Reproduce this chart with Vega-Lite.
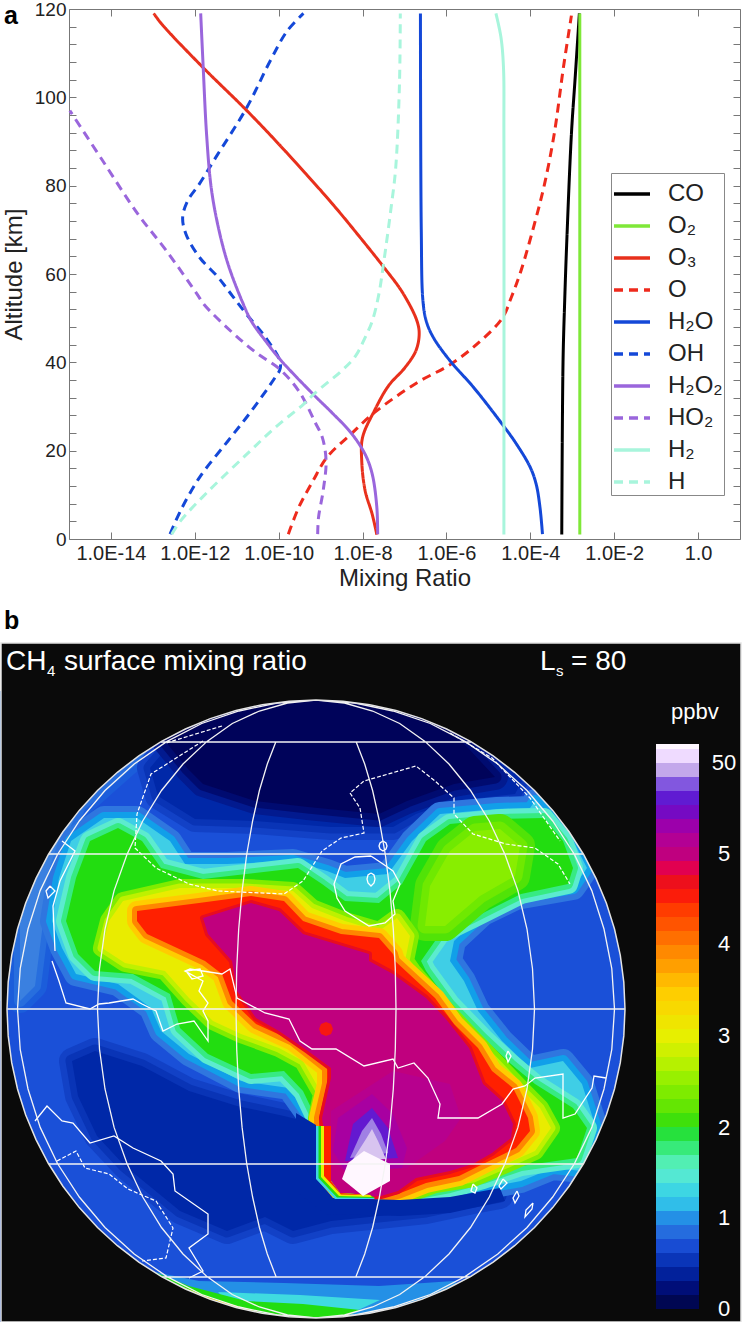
{"$schema":"https://vega.github.io/schema/vega-lite/v6.json","padding":{"left":-2,"top":0,"right":0,"bottom":0},"background":"white","spacing":10,"bounds":"full","align":"none","config":{"font":"Liberation Sans","view":{"stroke":null}},"datasets":{"profiles":[
{"s":"CO","alt":1,"m":-3.25},{"s":"CO","alt":40,"m":-3.22},{"s":"CO","alt":54,"m":-3.18},{"s":"CO","alt":67.5,"m":-3.13},{"s":"CO","alt":91.7,"m":-3.02},{"s":"CO","alt":104.5,"m":-2.93},{"s":"CO","alt":119,"m":-2.83},
{"s":"O₂","alt":1,"m":-2.82},{"s":"O₂","alt":119,"m":-2.82},
{"s":"O₃","alt":119,"m":-12.98},{"s":"O₃","alt":116.6,"m":-12.79},{"s":"O₃","alt":107,"m":-11.83},{"s":"O₃","alt":97,"m":-10.76},{"s":"O₃","alt":88,"m":-9.86},{"s":"O₃","alt":76,"m":-8.73},{"s":"O₃","alt":68.3,"m":-8.06},{"s":"O₃","alt":61.5,"m":-7.49},{"s":"O₃","alt":55.7,"m":-7.04},{"s":"O₃","alt":49.3,"m":-6.7},{"s":"O₃","alt":46.3,"m":-6.65},{"s":"O₃","alt":42.6,"m":-6.73},{"s":"O₃","alt":38.8,"m":-6.99},{"s":"O₃","alt":34.7,"m":-7.38},{"s":"O₃","alt":29,"m":-7.72},{"s":"O₃","alt":23,"m":-8.0},{"s":"O₃","alt":17.7,"m":-8.02},{"s":"O₃","alt":11,"m":-7.94},{"s":"O₃","alt":5.6,"m":-7.77},{"s":"O₃","alt":1,"m":-7.66},
{"s":"O","alt":118.5,"m":-3.02},{"s":"O","alt":106.8,"m":-3.21},{"s":"O","alt":91.7,"m":-3.43},{"s":"O","alt":80.4,"m":-3.66},{"s":"O","alt":72.1,"m":-3.88},{"s":"O","alt":60.8,"m":-4.22},{"s":"O","alt":54.8,"m":-4.45},{"s":"O","alt":50,"m":-4.67},{"s":"O","alt":44.4,"m":-5.24},{"s":"O","alt":39.5,"m":-5.91},{"s":"O","alt":35.4,"m":-6.7},{"s":"O","alt":28.6,"m":-7.72},{"s":"O","alt":23.7,"m":-8.28},{"s":"O","alt":18.5,"m":-8.85},{"s":"O","alt":13.2,"m":-9.18},{"s":"O","alt":7.2,"m":-9.52},{"s":"O","alt":1.1,"m":-9.77},
{"s":"H₂O","alt":119,"m":-6.62},{"s":"H₂O","alt":70,"m":-6.6},{"s":"H₂O","alt":53.9,"m":-6.56},{"s":"H₂O","alt":49.3,"m":-6.48},{"s":"H₂O","alt":45.6,"m":-6.31},{"s":"H₂O","alt":40.3,"m":-5.91},{"s":"H₂O","alt":34.3,"m":-5.35},{"s":"H₂O","alt":26,"m":-4.67},{"s":"H₂O","alt":21.5,"m":-4.33},{"s":"H₂O","alt":16.2,"m":-4.0},{"s":"H₂O","alt":12.4,"m":-3.86},{"s":"H₂O","alt":7.2,"m":-3.77},{"s":"H₂O","alt":1.1,"m":-3.71},
{"s":"OH","alt":119,"m":-9.41},{"s":"OH","alt":115,"m":-9.8},{"s":"OH","alt":108.3,"m":-10.2},{"s":"OH","alt":97.7,"m":-10.76},{"s":"OH","alt":86.4,"m":-11.5},{"s":"OH","alt":80.4,"m":-11.89},{"s":"OH","alt":76.6,"m":-12.17},{"s":"OH","alt":72.8,"m":-12.29},{"s":"OH","alt":69,"m":-12.21},{"s":"OH","alt":63.8,"m":-11.89},{"s":"OH","alt":59.2,"m":-11.44},{"s":"OH","alt":55,"m":-11.1},{"s":"OH","alt":50.8,"m":-10.76},{"s":"OH","alt":45.6,"m":-10.31},{"s":"OH","alt":40.3,"m":-9.97},{"s":"OH","alt":38.4,"m":-9.97},{"s":"OH","alt":36.5,"m":-10.09},{"s":"OH","alt":29,"m":-10.65},{"s":"OH","alt":22.2,"m":-11.21},{"s":"OH","alt":13.9,"m":-11.89},{"s":"OH","alt":6.4,"m":-12.34},{"s":"OH","alt":1.1,"m":-12.59},
{"s":"H₂O₂","alt":119,"m":-11.86},{"s":"H₂O₂","alt":106.8,"m":-11.8},{"s":"H₂O₂","alt":91.7,"m":-11.72},{"s":"H₂O₂","alt":79.6,"m":-11.61},{"s":"H₂O₂","alt":70.6,"m":-11.44},{"s":"H₂O₂","alt":62.3,"m":-11.21},{"s":"H₂O₂","alt":54,"m":-10.88},{"s":"H₂O₂","alt":49.3,"m":-10.65},{"s":"H₂O₂","alt":44.8,"m":-10.31},{"s":"H₂O₂","alt":40.7,"m":-9.97},{"s":"H₂O₂","alt":32.8,"m":-9.18},{"s":"H₂O₂","alt":28.6,"m":-8.73},{"s":"H₂O₂","alt":24.1,"m":-8.28},{"s":"H₂O₂","alt":19.2,"m":-7.94},{"s":"H₂O₂","alt":14.7,"m":-7.77},{"s":"H₂O₂","alt":7.2,"m":-7.66},{"s":"H₂O₂","alt":1.1,"m":-7.64},
{"s":"HO₂","alt":97,"m":-14.98},{"s":"HO₂","alt":85.7,"m":-14.2},{"s":"HO₂","alt":73.6,"m":-13.36},{"s":"HO₂","alt":65.3,"m":-12.68},{"s":"HO₂","alt":55.5,"m":-11.95},{"s":"HO₂","alt":53.1,"m":-11.78},{"s":"HO₂","alt":46.7,"m":-11.1},{"s":"HO₂","alt":42.2,"m":-10.54},{"s":"HO₂","alt":38.4,"m":-9.97},{"s":"HO₂","alt":33.5,"m":-9.52},{"s":"HO₂","alt":26.4,"m":-9.13},{"s":"HO₂","alt":23,"m":-8.96},{"s":"HO₂","alt":17.7,"m":-8.87},{"s":"HO₂","alt":10.9,"m":-8.94},{"s":"HO₂","alt":4.9,"m":-9.05},{"s":"HO₂","alt":1.1,"m":-9.07},
{"s":"H₂","alt":119,"m":-4.82},{"s":"H₂","alt":113.6,"m":-4.7},{"s":"H₂","alt":106.8,"m":-4.64},{"s":"H₂","alt":91.7,"m":-4.63},{"s":"H₂","alt":1,"m":-4.63},
{"s":"H","alt":119,"m":-7.1},{"s":"H","alt":103,"m":-7.12},{"s":"H","alt":84,"m":-7.21},{"s":"H","alt":75,"m":-7.32},{"s":"H","alt":63,"m":-7.49},{"s":"H","alt":55.5,"m":-7.61},{"s":"H","alt":49.3,"m":-7.77},{"s":"H","alt":45.6,"m":-7.94},{"s":"H","alt":41.4,"m":-8.17},{"s":"H","alt":38,"m":-8.51},{"s":"H","alt":33.1,"m":-9.13},{"s":"H","alt":30.5,"m":-9.41},{"s":"H","alt":25.2,"m":-10.09},{"s":"H","alt":19.2,"m":-10.76},{"s":"H","alt":10.9,"m":-11.67},{"s":"H","alt":4.1,"m":-12.34},{"s":"H","alt":1.1,"m":-12.55}
],
"bands":[
{"type":"Feature","properties":{"id":0,"level":0.72,"f1":0.72,"f2":0.72},"geometry":{"type":"Polygon","coordinates":[[[0,690],[640,690],[640,1322],[0,1322],[0,690]]]}},
{"type":"Feature","properties":{"id":0,"level":0.95,"f1":0.95,"f2":0.95},"geometry":{"type":"Polygon","coordinates":[[[0,690],[24,690],[24,1000],[0,1000],[0,690]]]}},
{"type":"Feature","properties":{"id":1,"level":0.95,"f1":0.78,"f2":0.86},"geometry":{"type":"Polygon","coordinates":[[[20,1000],[35,985],[42,930],[55,860],[80,805],[125,765],[175,725],[170,690],[20,690],[20,1000]]]}},
{"type":"Feature","properties":{"id":1,"level":0.95,"f1":0.78,"f2":0.86},"geometry":{"type":"Polygon","coordinates":[[[510,735],[548,795],[605,860],[640,880],[640,790],[550,700],[510,735]]]}},
{"type":"Feature","properties":{"id":2,"level":0.45,"f1":0.62,"f2":0.53},"geometry":{"type":"Polygon","coordinates":[[[72,1060],[95,1050],[142,1065],[189,1090],[237,1105],[284,1115],[312,1122],[319,1177],[341,1197],[379,1200],[450,1200],[500,1195],[473,1200],[426,1210],[331,1220],[293,1230],[265,1216],[227,1230],[180,1210],[125,1165],[97,1135],[78,1095],[72,1060]]]}},
{"type":"Feature","properties":{"id":2,"level":0.45,"f1":0.62,"f2":0.53},"geometry":{"type":"Polygon","coordinates":[[[150,767],[158,795],[195,818],[255,820],[331,826],[393,826],[416,813],[454,800],[515,793],[522,780],[495,745],[450,705],[316,690],[185,725],[150,767]]]}},
{"type":"Feature","properties":{"id":3,"level":0.12,"f1":0.33,"f2":0.2},"geometry":{"type":"Polygon","coordinates":[[[165,740],[188,768],[203,783],[255,800],[308,806],[379,813],[407,800],[454,783],[495,776],[468,747],[450,730],[379,700],[312,692],[246,700],[189,722],[165,740]]]}},
{"type":"Feature","properties":{"id":4,"level":1.25,"f1":0.9,"f2":1.05},"geometry":{"type":"Polygon","coordinates":[[[62,947],[52,920],[59,877],[71,840],[104,817],[137,817],[170,840],[185,863],[227,863],[293,860],[327,870],[345,877],[388,873],[412,840],[440,813],[497,808],[530,807],[535,800],[568,830],[587,867],[573,887],[516,897],[483,913],[454,940],[450,960],[464,980],[478,1010],[502,1040],[530,1067],[563,1060],[582,1083],[596,1127],[582,1170],[553,1167],[521,1180],[450,1193],[393,1197],[331,1196],[316,1177],[316,1125],[289,1087],[241,1080],[189,1053],[161,1030],[151,1007],[118,983],[76,973],[62,947]]]}},
{"type":"Feature","properties":{"id":5,"level":2,"f1":1.5,"f2":1.75},"geometry":{"type":"Polygon","coordinates":[[[78,953],[66,920],[76,877],[90,840],[118,827],[142,840],[161,867],[203,878],[255,872],[298,867],[322,883],[345,900],[379,902],[402,883],[426,840],[450,823],[502,818],[544,817],[563,840],[573,867],[568,883],[521,893],[473,917],[440,933],[421,960],[426,970],[450,1003],[483,1037],[511,1063],[535,1083],[573,1107],[587,1127],[577,1157],[521,1165],[483,1178],[450,1187],[407,1195],[331,1196],[318,1180],[316,1117],[303,1090],[284,1070],[251,1073],[208,1053],[180,1027],[170,993],[133,973],[95,970],[78,953]]]}},
{"type":"Feature","properties":{"id":6,"level":2.45,"f1":2.15,"f2":2.3},"geometry":{"type":"Polygon","coordinates":[[[450,850],[475,830],[500,828],[520,845],[515,875],[480,895],[445,925],[425,925],[430,885],[450,850]]]}},
{"type":"Feature","properties":{"id":7,"level":3.05,"f1":2.4,"f2":2.75},"geometry":{"type":"Polygon","coordinates":[[[102,947],[109,920],[123,900],[180,887],[246,887],[293,890],[312,907],[345,920],[379,930],[397,917],[410,935],[405,960],[412,970],[440,1003],[468,1033],[497,1063],[520,1087],[540,1107],[551,1127],[535,1150],[506,1163],[473,1177],[435,1183],[402,1195],[331,1197],[322,1187],[317,1117],[322,1093],[303,1060],[279,1047],[241,1033],[213,1020],[189,997],[165,970],[125,962],[102,947]]]}},
{"type":"Feature","properties":{"id":8,"level":4.5,"f1":3.5,"f2":3.95},"geometry":{"type":"Polygon","coordinates":[[[137,920],[137,910],[199,902],[251,895],[284,900],[303,920],[341,933],[379,937],[393,953],[395,960],[435,997],[454,1023],[478,1047],[492,1070],[513,1087],[528,1117],[530,1130],[516,1147],[483,1163],[459,1175],[426,1182],[398,1193],[381,1197],[345,1197],[325,1183],[320,1168],[319,1117],[327,1083],[327,1067],[293,1040],[256,1023],[232,1000],[222,973],[205,960],[147,933],[137,920]]]}},
{"type":"Feature","properties":{"id":9,"level":5,"f1":4.75,"f2":4.85},"geometry":{"type":"Polygon","coordinates":[[[203,917],[251,902],[279,910],[303,933],[369,953],[369,960],[393,973],[426,997],[445,1017],[469,1047],[483,1083],[502,1100],[513,1123],[511,1137],[492,1152],[473,1163],[450,1170],[416,1177],[398,1190],[381,1195],[364,1196],[341,1195],[327,1183],[331,1167],[327,1150],[322,1117],[331,1077],[331,1067],[308,1050],[279,1030],[256,1017],[237,990],[232,960],[208,933],[203,917]]]}}
],
"details":[
{"type":"Feature","properties":{"level":0.45},"geometry":{"type":"Polygon","coordinates":[[[316,1124],[316,1177],[333,1197],[400,1199],[450,1196],[500,1187],[505,1200],[450,1212],[400,1215],[325,1213],[296,1190],[296,1112],[316,1124]]]}},
{"type":"Feature","properties":{"level":1.3},"geometry":{"type":"Polygon","coordinates":[[[316,1125],[316,1178],[335,1198],[375,1198],[370,1194],[340,1192],[331,1180],[331,1125],[316,1125]]]}},
{"type":"Feature","properties":{"level":2},"geometry":{"type":"Polygon","coordinates":[[[318.5,1125],[318.5,1177],[337,1196.5],[375,1197],[370,1194],[340,1192],[331,1180],[331,1125],[318.5,1125]]]}},
{"type":"Feature","properties":{"level":3},"geometry":{"type":"Polygon","coordinates":[[[321,1125],[321,1176],[339,1195],[372,1196],[370,1194],[340,1192],[331,1180],[331,1125],[321,1125]]]}},
{"type":"Feature","properties":{"level":4.5},"geometry":{"type":"Polygon","coordinates":[[[324,1125],[324,1175],[341,1193.5],[370,1194],[340,1192],[331,1180],[331,1125],[324,1125]]]}},
{"type":"Feature","properties":{"level":1},"geometry":{"type":"Polygon","coordinates":[[[199,1280],[284,1282],[379,1285],[454,1280],[480,1300],[369,1322],[237,1322],[150,1270],[199,1280]]]}},
{"type":"Feature","properties":{"level":1.35},"geometry":{"type":"Polygon","coordinates":[[[218,1291],[300,1294],[380,1299],[330,1322],[240,1315],[218,1291]]]}},
{"type":"Feature","properties":{"level":2},"geometry":{"type":"Polygon","coordinates":[[[147,1268],[189,1285],[246,1300],[303,1303],[360,1309],[331,1322],[265,1322],[189,1300],[147,1268]]]}},
{"type":"Feature","properties":{"level":3.5},"geometry":{"type":"Polygon","coordinates":[[[180,1285],[213,1298],[265,1313],[218,1308],[180,1285]]]}},
{"type":"Feature","properties":{"level":5.12},"geometry":{"type":"Polygon","coordinates":[[[331,1110],[393,1070],[450,1083],[461,1117],[445,1140],[407,1167],[345,1170],[331,1160],[331,1110]]]}},
{"type":"Feature","properties":{"level":5.25},"geometry":{"type":"Polygon","coordinates":[[[338,1117],[372,1093],[393,1113],[407,1147],[402,1167],[345,1170],[333,1150],[338,1117]]]}},
{"type":"Feature","properties":{"level":5.6},"geometry":{"type":"Polygon","coordinates":[[[353,1123],[372,1107],[388,1127],[398,1157],[345,1160],[353,1123]]]}},
{"type":"Feature","properties":{"level":5.85},"geometry":{"type":"Polygon","coordinates":[[[362,1130],[372,1117],[381,1133],[388,1152],[350,1157],[362,1130]]]}},
{"type":"Feature","properties":{"level":6},"geometry":{"type":"Polygon","coordinates":[[[366,1138],[372,1128],[378,1140],[386,1158],[352,1160],[366,1138]]]}},
{"type":"Feature","properties":{"level":6.2},"geometry":{"type":"Polygon","coordinates":[[[364,1150],[390,1163],[390,1180],[363,1195],[342,1178],[348,1162],[364,1150]]]}},
{"type":"Feature","properties":{"level":4.6},"geometry":{"type":"Polygon","coordinates":[[[326,1021],[331,1023],[333,1028],[331,1033],[326,1035],[321,1033],[319,1028],[321,1023],[326,1021]]]}}
],
"page":[{"type":"Feature","properties":{},"geometry":{"type":"Polygon","coordinates":[[[0,600],[742,600],[742,1322],[0,1322],[0,600]]]}}],
"mask":[{"type":"Feature","properties":{},"geometry":{"type":"Polygon","coordinates":[[[1,642],[741,642],[741,1321],[1,1321],[1,642]],[[625,1008],[623.8,981.1],[620.3,954.3],[614.5,928],[606.4,902.3],[596,877.4],[583.6,853.5],[569.1,830.8],[552.7,809.4],[534.5,789.5],[514.6,771.3],[493.2,754.9],[470.5,740.4],[446.6,728],[421.7,717.6],[396,709.5],[369.7,703.7],[342.9,700.2],[316,699],[289.1,700.2],[262.3,703.7],[236,709.5],[210.3,717.6],[185.4,728],[161.5,740.4],[138.8,754.9],[117.4,771.3],[97.5,789.5],[79.3,809.4],[62.9,830.8],[48.4,853.5],[36,877.4],[25.6,902.3],[17.5,928],[11.7,954.3],[8.2,981.1],[7,1008],[8.2,1034.9],[11.7,1061.7],[17.5,1088],[25.6,1113.7],[36,1138.6],[48.4,1162.5],[62.9,1185.2],[79.3,1206.6],[97.5,1226.5],[117.4,1244.7],[138.8,1261.1],[161.5,1275.6],[185.4,1288],[210.3,1298.4],[236,1306.5],[262.3,1312.3],[289.1,1315.8],[316,1317],[342.9,1315.8],[369.7,1312.3],[396,1306.5],[421.7,1298.4],[446.6,1288],[470.5,1275.6],[493.2,1261.1],[514.6,1244.7],[534.5,1226.5],[552.7,1206.6],[569.1,1185.2],[583.6,1162.5],[596,1138.6],[606.4,1113.7],[614.5,1088],[620.3,1061.7],[623.8,1034.9],[625,1008]]]}}],
"grid":[
{"type":"Feature","properties":{},"geometry":{"type":"MultiLineString","coordinates":[
[[161,741],[471,741]],[[48,853],[584,853]],[[7,1008],[625,1008]],[[48,1163],[584,1163]],[[161,1276],[471,1276]],
[[356,740.4],[364.7,763],[372.6,789.5],[379.4,820],[385.3,853.5],[389.9,889.6],[393.3,928],[395.3,967.7],[396,1008],[395.3,1048.3],[393.3,1088],[389.9,1126.4],[385.3,1162.5],[379.4,1196],[372.6,1226.5],[364.7,1253],[356,1275.6]],
[[276,740.4],[267.3,763],[259.4,789.5],[252.6,820],[246.7,853.5],[242.1,889.6],[238.7,928],[236.7,967.7],[236,1008],[236.7,1048.3],[238.7,1088],[242.1,1126.4],[246.7,1162.5],[252.6,1196],[259.4,1226.5],[267.3,1253],[276,1275.6]],
[[316,699],[344.5,702],[372.6,710],[399.7,722.5],[425,740.4],[449,763],[470.5,789.5],[489.3,820],[505,853.5],[517.9,889.6],[527,928],[532.5,967.7],[534.5,1008],[532.5,1048.3],[527,1088],[517.9,1126.4],[505,1162.5],[489.3,1196],[470.5,1226.5],[449,1253],[425,1275.6],[399.7,1293.5],[372.6,1306],[344.5,1314],[316,1317]],
[[316,699],[287.5,702],[259.4,710],[232.3,722.5],[207,740.4],[183,763],[161.5,789.5],[142.7,820],[127,853.5],[114.1,889.6],[105,928],[99.5,967.7],[97.5,1008],[99.5,1048.3],[105,1088],[114.1,1126.4],[127,1162.5],[142.7,1196],[161.5,1226.5],[183,1253],[207,1275.6],[232.3,1293.5],[259.4,1306],[287.5,1314],[316,1317]],
[[316,699],[355,702],[393,710],[430.3,722.5],[465,740.4],[497.8,763],[527,789.5],[552.7,820],[574.5,853.5],[591.8,889.6],[604,928],[611.8,967.7],[614.5,1008],[611.8,1048.3],[604,1088],[591.8,1126.4],[574.5,1162.5],[552.7,1196],[527,1226.5],[497.8,1253],[465,1275.6],[430.3,1293.5],[393,1306],[355,1314],[316,1317]],
[[316,699],[277,702],[239,710],[201.7,722.5],[167,740.4],[134.2,763],[105,789.5],[79.3,820],[57.5,853.5],[40.2,889.6],[28,928],[20.2,967.7],[17.5,1008],[20.2,1048.3],[28,1088],[40.2,1126.4],[57.5,1162.5],[79.3,1196],[105,1226.5],[134.2,1253],[167,1275.6],[201.7,1293.5],[239,1306],[277,1314],[316,1317]]
]}}],
"coast":[{"type":"Feature","properties":{},"geometry":{"type":"MultiLineString","coordinates":[
[[52,960],[59,980],[66,1002],[90,1008],[99,1003],[109,1002],[133,998],[142,1003],[156,1010],[163,1030],[177,1023],[194,1020],[208,1040],[208,1020],[203,1010],[208,1002],[199,990],[203,980],[185,970],[190,968],[222,973],[230,968],[237,997],[265,1012],[289,1018],[300,1040],[312,1048],[336,1048],[364,1065],[393,1058],[398,1067],[414,1062],[428,1077],[440,1103],[438,1117],[478,1117],[502,1103],[513,1088],[525,1085],[535,1077],[563,1073],[563,1117],[575,1113],[592,1087],[594,1075],[606,1077]],
[[35,1120],[47,1105],[62,1120],[73,1122],[90,1142],[114,1135],[133,1147],[161,1160],[173,1173],[175,1190],[208,1213],[208,1233],[189,1247],[203,1270],[189,1277]],
[[371,855],[355,856],[341,863],[334,883],[337,897],[345,910],[369,925],[385,922],[395,913],[393,900],[400,883],[393,870],[383,863],[371,855]],
[[383,840],[386,842],[387,845],[386,848],[383,850],[380,848],[379,845],[380,842],[383,840]],
[[371,872],[374,874],[375,878],[374,882],[371,885],[368,882],[367,878],[368,874],[371,872]],
[[473,1183],[477,1187],[475,1192],[471,1190],[473,1183]],
[[503,1178],[507,1182],[501,1188],[499,1185],[503,1178]],
[[517,1190],[519,1195],[515,1202],[513,1197],[517,1190]],
[[533,1202],[532,1208],[525,1216],[526,1209],[533,1202]],
[[508,1050],[511,1055],[508,1061],[506,1055],[508,1050]],
[[50,885],[55,890],[48,897],[46,890],[50,885]],
[[55,950],[53,905],[60,880],[75,850],[62,840]],
[[186,970],[200,968],[203,975],[192,978],[186,970]]
]}}],
"coastDashed":[{"type":"Feature","properties":{},"geometry":{"type":"MultiLineString","coordinates":[
[[57,1160],[76,1150],[85,1167],[109,1173],[128,1188],[156,1200],[173,1227],[166,1257],[142,1260]],
[[222,725],[166,742]],
[[203,740],[151,773],[137,813],[135,847],[156,867],[189,883],[218,890],[284,893],[303,880],[322,850],[341,837],[364,832],[360,807],[350,792],[364,780],[416,765],[435,780],[454,797],[454,813],[473,833],[506,843],[535,847],[558,863],[570,883]],
[[450,732],[492,757],[530,797],[560,840]]
]}}],
"colorbar":[
{"type":"Feature","properties":{"level":0.08},"geometry":{"type":"Polygon","coordinates":[[[656,1294],[699,1294],[699,1308],[656,1308],[656,1294]]]}},
{"type":"Feature","properties":{"level":0.23},"geometry":{"type":"Polygon","coordinates":[[[656,1280],[699,1280],[699,1294],[656,1294],[656,1280]]]}},
{"type":"Feature","properties":{"level":0.39},"geometry":{"type":"Polygon","coordinates":[[[656,1266],[699,1266],[699,1280],[656,1280],[656,1266]]]}},
{"type":"Feature","properties":{"level":0.54},"geometry":{"type":"Polygon","coordinates":[[[656,1252],[699,1252],[699,1266],[656,1266],[656,1252]]]}},
{"type":"Feature","properties":{"level":0.69},"geometry":{"type":"Polygon","coordinates":[[[656,1238],[699,1238],[699,1252],[656,1252],[656,1238]]]}},
{"type":"Feature","properties":{"level":0.85},"geometry":{"type":"Polygon","coordinates":[[[656,1224],[699,1224],[699,1238],[656,1238],[656,1224]]]}},
{"type":"Feature","properties":{"level":1.0},"geometry":{"type":"Polygon","coordinates":[[[656,1210],[699,1210],[699,1224],[656,1224],[656,1210]]]}},
{"type":"Feature","properties":{"level":1.16},"geometry":{"type":"Polygon","coordinates":[[[656,1196],[699,1196],[699,1210],[656,1210],[656,1196]]]}},
{"type":"Feature","properties":{"level":1.31},"geometry":{"type":"Polygon","coordinates":[[[656,1182],[699,1182],[699,1196],[656,1196],[656,1182]]]}},
{"type":"Feature","properties":{"level":1.47},"geometry":{"type":"Polygon","coordinates":[[[656,1168],[699,1168],[699,1182],[656,1182],[656,1168]]]}},
{"type":"Feature","properties":{"level":1.62},"geometry":{"type":"Polygon","coordinates":[[[656,1154],[699,1154],[699,1168],[656,1168],[656,1154]]]}},
{"type":"Feature","properties":{"level":1.77},"geometry":{"type":"Polygon","coordinates":[[[656,1140],[699,1140],[699,1154],[656,1154],[656,1140]]]}},
{"type":"Feature","properties":{"level":1.93},"geometry":{"type":"Polygon","coordinates":[[[656,1126],[699,1126],[699,1140],[656,1140],[656,1126]]]}},
{"type":"Feature","properties":{"level":2.08},"geometry":{"type":"Polygon","coordinates":[[[656,1112],[699,1112],[699,1126],[656,1126],[656,1112]]]}},
{"type":"Feature","properties":{"level":2.24},"geometry":{"type":"Polygon","coordinates":[[[656,1098],[699,1098],[699,1112],[656,1112],[656,1098]]]}},
{"type":"Feature","properties":{"level":2.39},"geometry":{"type":"Polygon","coordinates":[[[656,1084],[699,1084],[699,1098],[656,1098],[656,1084]]]}},
{"type":"Feature","properties":{"level":2.54},"geometry":{"type":"Polygon","coordinates":[[[656,1070],[699,1070],[699,1084],[656,1084],[656,1070]]]}},
{"type":"Feature","properties":{"level":2.7},"geometry":{"type":"Polygon","coordinates":[[[656,1056],[699,1056],[699,1070],[656,1070],[656,1056]]]}},
{"type":"Feature","properties":{"level":2.85},"geometry":{"type":"Polygon","coordinates":[[[656,1042],[699,1042],[699,1056],[656,1056],[656,1042]]]}},
{"type":"Feature","properties":{"level":3.01},"geometry":{"type":"Polygon","coordinates":[[[656,1028],[699,1028],[699,1042],[656,1042],[656,1028]]]}},
{"type":"Feature","properties":{"level":3.16},"geometry":{"type":"Polygon","coordinates":[[[656,1014],[699,1014],[699,1028],[656,1028],[656,1014]]]}},
{"type":"Feature","properties":{"level":3.32},"geometry":{"type":"Polygon","coordinates":[[[656,1000],[699,1000],[699,1014],[656,1014],[656,1000]]]}},
{"type":"Feature","properties":{"level":3.47},"geometry":{"type":"Polygon","coordinates":[[[656,986],[699,986],[699,1000],[656,1000],[656,986]]]}},
{"type":"Feature","properties":{"level":3.62},"geometry":{"type":"Polygon","coordinates":[[[656,972],[699,972],[699,986],[656,986],[656,972]]]}},
{"type":"Feature","properties":{"level":3.78},"geometry":{"type":"Polygon","coordinates":[[[656,958],[699,958],[699,972],[656,972],[656,958]]]}},
{"type":"Feature","properties":{"level":3.93},"geometry":{"type":"Polygon","coordinates":[[[656,944],[699,944],[699,958],[656,958],[656,944]]]}},
{"type":"Feature","properties":{"level":4.09},"geometry":{"type":"Polygon","coordinates":[[[656,930],[699,930],[699,944],[656,944],[656,930]]]}},
{"type":"Feature","properties":{"level":4.24},"geometry":{"type":"Polygon","coordinates":[[[656,916],[699,916],[699,930],[656,930],[656,916]]]}},
{"type":"Feature","properties":{"level":4.39},"geometry":{"type":"Polygon","coordinates":[[[656,902],[699,902],[699,916],[656,916],[656,902]]]}},
{"type":"Feature","properties":{"level":4.55},"geometry":{"type":"Polygon","coordinates":[[[656,888],[699,888],[699,902],[656,902],[656,888]]]}},
{"type":"Feature","properties":{"level":4.7},"geometry":{"type":"Polygon","coordinates":[[[656,874],[699,874],[699,888],[656,888],[656,874]]]}},
{"type":"Feature","properties":{"level":4.86},"geometry":{"type":"Polygon","coordinates":[[[656,860],[699,860],[699,874],[656,874],[656,860]]]}},
{"type":"Feature","properties":{"level":5.01},"geometry":{"type":"Polygon","coordinates":[[[656,846],[699,846],[699,860],[656,860],[656,846]]]}},
{"type":"Feature","properties":{"level":5.16},"geometry":{"type":"Polygon","coordinates":[[[656,832],[699,832],[699,846],[656,846],[656,832]]]}},
{"type":"Feature","properties":{"level":5.32},"geometry":{"type":"Polygon","coordinates":[[[656,818],[699,818],[699,832],[656,832],[656,818]]]}},
{"type":"Feature","properties":{"level":5.47},"geometry":{"type":"Polygon","coordinates":[[[656,804],[699,804],[699,818],[656,818],[656,804]]]}},
{"type":"Feature","properties":{"level":5.63},"geometry":{"type":"Polygon","coordinates":[[[656,790],[699,790],[699,804],[656,804],[656,790]]]}},
{"type":"Feature","properties":{"level":5.78},"geometry":{"type":"Polygon","coordinates":[[[656,776],[699,776],[699,790],[656,790],[656,776]]]}},
{"type":"Feature","properties":{"level":5.94},"geometry":{"type":"Polygon","coordinates":[[[656,762],[699,762],[699,776],[656,776],[656,762]]]}},
{"type":"Feature","properties":{"level":6.09},"geometry":{"type":"Polygon","coordinates":[[[656,748],[699,748],[699,762],[656,762],[656,748]]]}},
{"type":"Feature","properties":{"level":6.2},"geometry":{"type":"Polygon","coordinates":[[[656,743],[699,743],[699,748],[656,748],[656,743]]]}}
],
"bigText":[{"t":"CH","lon":6,"lat":669},{"t":"surface mixing ratio","lon":64,"lat":669},{"t":"L","lon":540,"lat":669},{"t":"= 80","lon":571,"lat":669}],
"smallText":[{"t":"4","lon":47,"lat":675},{"t":"s","lon":556,"lat":675}],
"barTitle":[{"t":"ppbv","lon":671,"lat":718}],
"barLabels":[{"t":"50","lon":724,"lat":762},{"t":"5","lon":724,"lat":853},{"t":"4","lon":724,"lat":943},{"t":"3","lon":724,"lat":1035},{"t":"2","lon":724,"lat":1127},{"t":"1","lon":724,"lat":1217},{"t":"0","lon":724,"lat":1308}],
"tag":[{"t":"b","lon":4,"lat":620}]
},
"vconcat":[
{"width":742,"height":530,"data":{"name":"profiles"},"resolve":{"axis":{"x":"independent","y":"independent"}},"layer":[
{"mark":{"type":"line","strokeWidth":3,"interpolate":"catmull-rom","clip":true},"encoding":{
"x":{"field":"m","type":"quantitative","scale":{"domain":[-15,1],"range":[69,740],"nice":false,"zero":false},"axis":{"values":[-14,-12,-10,-8,-6,-4,-2,0],"labelExpr":"datum.value==0?'1.0':'1.0E-'+abs(datum.value)","labelFontSize":20,"labelColor":"#222","title":"Mixing Ratio","titleFontSize":24,"titleFontWeight":"normal","titleColor":"#222","domainColor":"#777","tickColor":"#777","tickSize":-7,"grid":false,"labelPadding":11,"titlePadding":3,"labelOverlap":false}},
"y":{"field":"alt","type":"quantitative","scale":{"domain":[0,120],"nice":false},"axis":{"offset":-69,"values":[0,4,8,12,16,20,24,28,32,36,40,44,48,52,56,60,64,68,72,76,80,84,88,92,96,100,104,108,112,116,120],"labelExpr":"datum.value%20==0?datum.value:''","labelFontSize":19,"labelColor":"#222","title":"Altitude [km]","titleFontSize":24,"titleFontWeight":"normal","titleColor":"#222","domainColor":"#777","tickColor":"#777","tickSize":-7,"grid":false,"labelPadding":10,"titlePadding":8,"labelOverlap":false}},
"order":{"field":"alt"},
"color":{"field":"s","type":"nominal","scale":{"domain":["CO","O₂","O₃","O","H₂O","OH","H₂O₂","HO₂","H₂","H"],"range":["#000000","#7fe838","#e8301c","#ee2a1c","#1448d8","#1448d8","#9a66dc","#9a66dc","#a8f5dc","#a8f5dc"]},"legend":{"orient":"none","legendX":611,"legendY":164,"title":null,"symbolType":"stroke","symbolSize":1296,"symbolStrokeWidth":3.5,"labelFontSize":24,"labelColor":"#222","labelOffset":16,"labelExpr":"datum.label+'      '","rowPadding":0,"fillColor":"white","strokeColor":"#888","padding":1}},
"strokeDash":{"field":"s","type":"nominal","scale":{"domain":["CO","O₂","O₃","O","H₂O","OH","H₂O₂","HO₂","H₂","H"],"range":[[1,0],[1,0],[1,0],[9,6],[1,0],[9,6],[1,0],[9,6],[1,0],[9,6]]},"legend":{"orient":"none","legendX":611,"legendY":164,"title":null,"symbolType":"stroke","symbolSize":1296,"symbolStrokeWidth":3.5,"labelFontSize":24,"labelColor":"#222","labelOffset":16,"labelExpr":"datum.label+'      '","rowPadding":0,"fillColor":"white","strokeColor":"#888","padding":1}}
}},
{"mark":{"type":"line","opacity":0},"encoding":{
"x":{"field":"m","type":"quantitative","scale":{"domain":[-15,1],"range":[69,740],"nice":false,"zero":false},"axis":{"orient":"top","values":[-14,-12,-10,-8,-6,-4,-2,0],"labels":false,"title":null,"domainColor":"#777","tickColor":"#777","tickSize":-7,"grid":false}},
"y":{"field":"alt","type":"quantitative","scale":{"domain":[0,120],"nice":false},"axis":{"orient":"right","offset":-2,"values":[0,4,8,12,16,20,24,28,32,36,40,44,48,52,56,60,64,68,72,76,80,84,88,92,96,100,104,108,112,116,120],"labels":false,"title":null,"domainColor":"#777","tickColor":"#777","tickSize":-7,"grid":false}},
"order":{"field":"alt"},"detail":{"field":"s"}}},
{"data":{"values":[{"t":"a"}]},"mark":{"type":"text","align":"left","baseline":"middle","fontSize":25,"fontWeight":"bold","color":"black"},"encoding":{"text":{"field":"t"},
"x":{"datum":-16.55,"type":"quantitative","scale":{"domain":[-15,1],"range":[69,740],"nice":false,"zero":false},"axis":null},
"y":{"datum":118.5,"type":"quantitative","scale":{"domain":[0,120],"nice":false},"axis":null}}}
]},
{"width":742,"height":722,"projection":{"type":"identity","reflectY":false},"layer":[
{"data":{"name":"page"},"mark":{"type":"geoshape","fill":"white","stroke":null}},
{"data":{"name":"bands"},"transform":[{"filter":"datum.properties.id==0"}],"mark":{"type":"geoshape","stroke":null},"encoding":{
"fill":{"field":"properties.level","type":"quantitative","scale":{"domain":[-0.02,0.1,0.25,0.45,0.72,0.95,1.2,1.55,1.8,2,2.5,3,3.5,3.8,4.2,4.5,4.75,5,5.3,5.5,5.7,5.85,6,6.2],"range":["#0e1a3a","#000055","#00107e","#0028a8","#1a50d8","#3a80e0","#45c8e8","#6af0c8","#38e86c","#22dd10","#90f000","#e6f000","#ffcc00","#ff9c00","#ff5a00","#ff2000","#e80c20","#c0007e","#a000a8","#6a10c8","#5a20d8","#a080e4","#d8c4f0","#ffffff"]},"legend":null}}},
{"data":{"name":"bands"},"transform":[{"filter":"datum.properties.id==1"}],"mark":{"type":"geoshape","filled":false,"strokeWidth":24,"strokeJoin":"round"},"encoding":{"stroke":{"field":"properties.f1","type":"quantitative","legend":null,"scale":{"domain":[-0.02,0.1,0.25,0.45,0.72,0.95,1.2,1.55,1.8,2,2.5,3,3.5,3.8,4.2,4.5,4.75,5,5.3,5.5,5.7,5.85,6,6.2],"range":["#0e1a3a","#000055","#00107e","#0028a8","#1a50d8","#3a80e0","#45c8e8","#6af0c8","#38e86c","#22dd10","#90f000","#e6f000","#ffcc00","#ff9c00","#ff5a00","#ff2000","#e80c20","#c0007e","#a000a8","#6a10c8","#5a20d8","#a080e4","#d8c4f0","#ffffff"]}}}},
{"data":{"name":"bands"},"transform":[{"filter":"datum.properties.id==1"}],"mark":{"type":"geoshape","filled":false,"strokeWidth":12,"strokeJoin":"round"},"encoding":{"stroke":{"field":"properties.f2","type":"quantitative","legend":null}}},
{"data":{"name":"bands"},"transform":[{"filter":"datum.properties.id==1"}],"mark":{"type":"geoshape","stroke":null},"encoding":{"fill":{"field":"properties.level","type":"quantitative","legend":null}}},
{"data":{"name":"bands"},"transform":[{"filter":"datum.properties.id==2"}],"mark":{"type":"geoshape","filled":false,"strokeWidth":26,"strokeJoin":"round"},"encoding":{"stroke":{"field":"properties.f1","type":"quantitative","legend":null}}},
{"data":{"name":"bands"},"transform":[{"filter":"datum.properties.id==2"}],"mark":{"type":"geoshape","filled":false,"strokeWidth":13,"strokeJoin":"round"},"encoding":{"stroke":{"field":"properties.f2","type":"quantitative","legend":null}}},
{"data":{"name":"bands"},"transform":[{"filter":"datum.properties.id==2"}],"mark":{"type":"geoshape","stroke":null},"encoding":{"fill":{"field":"properties.level","type":"quantitative","legend":null}}},
{"data":{"name":"bands"},"transform":[{"filter":"datum.properties.id==3"}],"mark":{"type":"geoshape","filled":false,"strokeWidth":26,"strokeJoin":"round"},"encoding":{"stroke":{"field":"properties.f1","type":"quantitative","legend":null}}},
{"data":{"name":"bands"},"transform":[{"filter":"datum.properties.id==3"}],"mark":{"type":"geoshape","filled":false,"strokeWidth":13,"strokeJoin":"round"},"encoding":{"stroke":{"field":"properties.f2","type":"quantitative","legend":null}}},
{"data":{"name":"bands"},"transform":[{"filter":"datum.properties.id==3"}],"mark":{"type":"geoshape","stroke":null},"encoding":{"fill":{"field":"properties.level","type":"quantitative","legend":null}}},
{"data":{"name":"bands"},"transform":[{"filter":"datum.properties.id==4"}],"mark":{"type":"geoshape","filled":false,"strokeWidth":24,"strokeJoin":"round"},"encoding":{"stroke":{"field":"properties.f1","type":"quantitative","legend":null}}},
{"data":{"name":"bands"},"transform":[{"filter":"datum.properties.id==4"}],"mark":{"type":"geoshape","filled":false,"strokeWidth":12,"strokeJoin":"round"},"encoding":{"stroke":{"field":"properties.f2","type":"quantitative","legend":null}}},
{"data":{"name":"bands"},"transform":[{"filter":"datum.properties.id==4"}],"mark":{"type":"geoshape","stroke":null},"encoding":{"fill":{"field":"properties.level","type":"quantitative","legend":null}}},
{"data":{"name":"bands"},"transform":[{"filter":"datum.properties.id==5"}],"mark":{"type":"geoshape","filled":false,"strokeWidth":20,"strokeJoin":"round"},"encoding":{"stroke":{"field":"properties.f1","type":"quantitative","legend":null}}},
{"data":{"name":"bands"},"transform":[{"filter":"datum.properties.id==5"}],"mark":{"type":"geoshape","filled":false,"strokeWidth":10,"strokeJoin":"round"},"encoding":{"stroke":{"field":"properties.f2","type":"quantitative","legend":null}}},
{"data":{"name":"bands"},"transform":[{"filter":"datum.properties.id==5"}],"mark":{"type":"geoshape","stroke":null},"encoding":{"fill":{"field":"properties.level","type":"quantitative","legend":null}}},
{"data":{"name":"bands"},"transform":[{"filter":"datum.properties.id==6"}],"mark":{"type":"geoshape","filled":false,"strokeWidth":30,"strokeJoin":"round"},"encoding":{"stroke":{"field":"properties.f1","type":"quantitative","legend":null}}},
{"data":{"name":"bands"},"transform":[{"filter":"datum.properties.id==6"}],"mark":{"type":"geoshape","filled":false,"strokeWidth":15,"strokeJoin":"round"},"encoding":{"stroke":{"field":"properties.f2","type":"quantitative","legend":null}}},
{"data":{"name":"bands"},"transform":[{"filter":"datum.properties.id==6"}],"mark":{"type":"geoshape","stroke":null},"encoding":{"fill":{"field":"properties.level","type":"quantitative","legend":null}}},
{"data":{"name":"bands"},"transform":[{"filter":"datum.properties.id==7"}],"mark":{"type":"geoshape","filled":false,"strokeWidth":18,"strokeJoin":"round"},"encoding":{"stroke":{"field":"properties.f1","type":"quantitative","legend":null}}},
{"data":{"name":"bands"},"transform":[{"filter":"datum.properties.id==7"}],"mark":{"type":"geoshape","filled":false,"strokeWidth":9,"strokeJoin":"round"},"encoding":{"stroke":{"field":"properties.f2","type":"quantitative","legend":null}}},
{"data":{"name":"bands"},"transform":[{"filter":"datum.properties.id==7"}],"mark":{"type":"geoshape","stroke":null},"encoding":{"fill":{"field":"properties.level","type":"quantitative","legend":null}}},
{"data":{"name":"bands"},"transform":[{"filter":"datum.properties.id==8"}],"mark":{"type":"geoshape","filled":false,"strokeWidth":20,"strokeJoin":"round"},"encoding":{"stroke":{"field":"properties.f1","type":"quantitative","legend":null}}},
{"data":{"name":"bands"},"transform":[{"filter":"datum.properties.id==8"}],"mark":{"type":"geoshape","filled":false,"strokeWidth":10,"strokeJoin":"round"},"encoding":{"stroke":{"field":"properties.f2","type":"quantitative","legend":null}}},
{"data":{"name":"bands"},"transform":[{"filter":"datum.properties.id==8"}],"mark":{"type":"geoshape","stroke":null},"encoding":{"fill":{"field":"properties.level","type":"quantitative","legend":null}}},
{"data":{"name":"bands"},"transform":[{"filter":"datum.properties.id==9"}],"mark":{"type":"geoshape","filled":false,"strokeWidth":6,"strokeJoin":"round"},"encoding":{"stroke":{"field":"properties.f1","type":"quantitative","legend":null}}},
{"data":{"name":"bands"},"transform":[{"filter":"datum.properties.id==9"}],"mark":{"type":"geoshape","stroke":null},"encoding":{"fill":{"field":"properties.level","type":"quantitative","legend":null}}},
{"data":{"name":"details"},"mark":{"type":"geoshape","stroke":null},"encoding":{"fill":{"field":"properties.level","type":"quantitative","legend":null}}},
{"data":{"name":"coast"},"mark":{"type":"geoshape","filled":false,"stroke":"white","strokeWidth":1.3}},
{"data":{"name":"coastDashed"},"mark":{"type":"geoshape","filled":false,"stroke":"white","strokeWidth":1.2,"strokeDash":[4,2]}},
{"data":{"name":"grid"},"mark":{"type":"geoshape","filled":false,"stroke":"#f4f4f4","strokeWidth":1.3}},
{"data":{"name":"mask"},"mark":{"type":"geoshape","fill":"#0a0a0a","stroke":"#e4e4e4","strokeWidth":1.5}},
{"data":{"name":"colorbar"},"mark":{"type":"geoshape","stroke":null},"encoding":{"fill":{"field":"properties.level","type":"quantitative","legend":null}}},
{"data":{"name":"bigText"},"mark":{"type":"text","align":"left","baseline":"alphabetic","fontSize":28,"color":"white"},"encoding":{"longitude":{"field":"lon","type":"quantitative"},"latitude":{"field":"lat","type":"quantitative"},"text":{"field":"t"}}},
{"data":{"name":"smallText"},"mark":{"type":"text","align":"left","baseline":"alphabetic","fontSize":15,"color":"white"},"encoding":{"longitude":{"field":"lon","type":"quantitative"},"latitude":{"field":"lat","type":"quantitative"},"text":{"field":"t"}}},
{"data":{"name":"barTitle"},"mark":{"type":"text","align":"left","baseline":"alphabetic","fontSize":22,"color":"white"},"encoding":{"longitude":{"field":"lon","type":"quantitative"},"latitude":{"field":"lat","type":"quantitative"},"text":{"field":"t"}}},
{"data":{"name":"barLabels"},"mark":{"type":"text","align":"center","baseline":"middle","fontSize":22,"color":"white"},"encoding":{"longitude":{"field":"lon","type":"quantitative"},"latitude":{"field":"lat","type":"quantitative"},"text":{"field":"t"}}},
{"data":{"name":"tag"},"mark":{"type":"text","align":"left","baseline":"middle","fontSize":25,"fontWeight":"bold","color":"black"},"encoding":{"longitude":{"field":"lon","type":"quantitative"},"latitude":{"field":"lat","type":"quantitative"},"text":{"field":"t"}}}
]}
]}
